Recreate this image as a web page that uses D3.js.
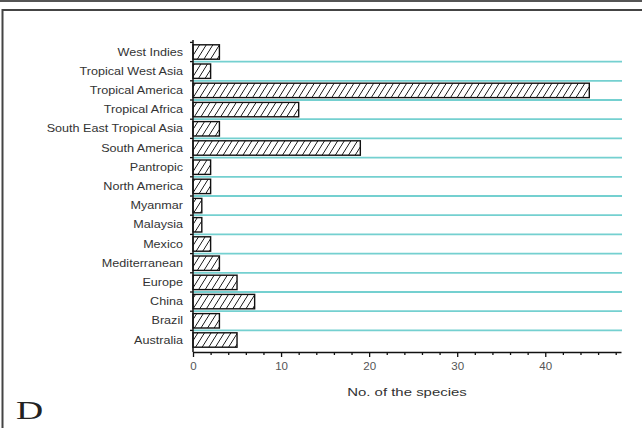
<!DOCTYPE html>
<html>
<head>
<meta charset="utf-8">
<script src="https://cdn.jsdelivr.net/npm/d3@7"></script>
<style>
  html, body { margin: 0; padding: 0; background: #fff; }
  svg { display: block; }
</style>
</head>
<body>
<svg id="chart" width="642" height="428"></svg>
<script>
// Regions, listed top to bottom as they appear on the axis
const regions = [
  "West Indies", "Tropical West Asia", "Tropical America", "Tropical Africa",
  "South East Tropical Asia", "South America", "Pantropic", "North America",
  "Myanmar", "Malaysia", "Mexico", "Mediterranean", "Europe", "China",
  "Brazil", "Australia"
];
// Number of species per region
const speciesCount = [3, 2, 45, 12, 3, 19, 2, 2, 1, 1, 2, 3, 5, 7, 3, 5];
const majorTicks = [0, 10, 20, 30, 40];
const minorTicks = [2, 4, 6, 8, 12, 14, 16, 18, 22, 24, 26, 28, 32, 34, 36, 38, 42, 44, 46, 48];
const xTitle = "No. of the species";
const panelLetter = "D";

const svg = d3.select("#chart");
const W = 642, H = 428;
const plot = { left: 193, right: 621, top: 40, bottom: 352 };

// page frame
svg.append("line").attr("x1", 0).attr("x2", W).attr("y1", 1).attr("y2", 1)
  .attr("stroke", "#555").attr("stroke-width", 2);
svg.append("path").attr("d", `M${W},10 H2.5 V${H}`)
  .attr("fill", "none").attr("stroke", "#444").attr("stroke-width", 2);

const x = d3.scaleLinear().domain([0, 48.6]).range([plot.left, plot.right]);
const y = d3.scaleBand().domain(regions).range([plot.top, plot.bottom]).padding(0.25);
const step = y.step();
const bandTop = d => y(d) - (step - y.bandwidth()) / 2;

// hatch pattern for the bars
const defs = svg.append("defs");
const pat = defs.append("pattern")
  .attr("id", "hatch").attr("patternUnits", "userSpaceOnUse")
  .attr("width", 6.6).attr("height", 7)
  .attr("patternTransform", "skewX(-32)");
pat.append("rect").attr("width", 6.6).attr("height", 7).attr("fill", "#fff");
pat.append("line").attr("x1", 3.3).attr("x2", 3.3).attr("y1", 0).attr("y2", 7)
  .attr("stroke", "#111").attr("stroke-width", 1);

// cyan guide lines between categories
svg.append("g").selectAll("line")
  .data(regions.slice(1))
  .join("line")
  .attr("x1", plot.left).attr("x2", plot.right + 1)
  .attr("y1", d => bandTop(d)).attr("y2", d => bandTop(d))
  .attr("stroke", "#74d0d0").attr("stroke-width", 1.8);

// bars
svg.append("g").selectAll("rect")
  .data(regions.map((r, i) => ({ r, v: speciesCount[i] })))
  .join("rect")
  .attr("x", x(0))
  .attr("y", d => y(d.r))
  .attr("width", d => x(d.v) - x(0))
  .attr("height", y.bandwidth())
  .attr("fill", "url(#hatch)")
  .attr("stroke", "#111").attr("stroke-width", 1.4);

// category axis: line, ticks at band boundaries, labels
const yAxis = svg.append("g");
yAxis.append("line").attr("x1", plot.left).attr("x2", plot.left)
  .attr("y1", plot.top).attr("y2", plot.bottom)
  .attr("stroke", "#111").attr("stroke-width", 1.5);
yAxis.selectAll("line.tick")
  .data(regions)
  .join("line").attr("class", "tick")
  .attr("x1", plot.left - 3).attr("x2", plot.left)
  .attr("y1", d => bandTop(d)).attr("y2", d => bandTop(d))
  .attr("stroke", "#111").attr("stroke-width", 1.3);
yAxis.selectAll("text")
  .data(regions)
  .join("text")
  .attr("transform", d => `translate(183,${y(d) + y.bandwidth() / 2}) scale(1.2,1)`)
  .attr("text-anchor", "end").attr("dominant-baseline", "central")
  .attr("font-family", "Liberation Sans, Arial, sans-serif")
  .attr("font-size", 10.5).attr("fill", "#333")
  .text(d => d);

// value axis
const xAxis = svg.append("g").attr("transform", `translate(0,${plot.bottom})`);
xAxis.call(d3.axisBottom(x).tickValues(majorTicks).tickSize(5).tickSizeOuter(0).tickPadding(6));
const xMinor = svg.append("g").attr("transform", `translate(0,${plot.bottom})`);
xMinor.call(d3.axisBottom(x).tickValues(minorTicks).tickSize(3).tickFormat(""));
xMinor.select(".domain").remove();
svg.selectAll(".domain").attr("stroke", "#111").attr("stroke-width", 1.5);
svg.selectAll(".tick line").attr("stroke", "#111").attr("stroke-width", 1.3);
xAxis.selectAll(".tick text")
  .attr("transform", "scale(1.1,1)")
  .attr("font-family", "Liberation Sans, Arial, sans-serif")
  .attr("font-size", 10.5).attr("fill", "#555");

svg.append("text")
  .attr("transform", `translate(${(plot.left + plot.right) / 2},396) scale(1.3,1)`)
  .attr("text-anchor", "middle")
  .attr("font-family", "Liberation Sans, Arial, sans-serif")
  .attr("font-size", 11.5).attr("fill", "#333")
  .text(xTitle);

svg.append("text")
  .attr("transform", "translate(16,419) scale(1.45,1)")
  .attr("font-family", "Liberation Serif, Times New Roman, serif")
  .attr("font-size", 26).attr("fill", "#222")
  .text(panelLetter);
</script>
</body>
</html>
